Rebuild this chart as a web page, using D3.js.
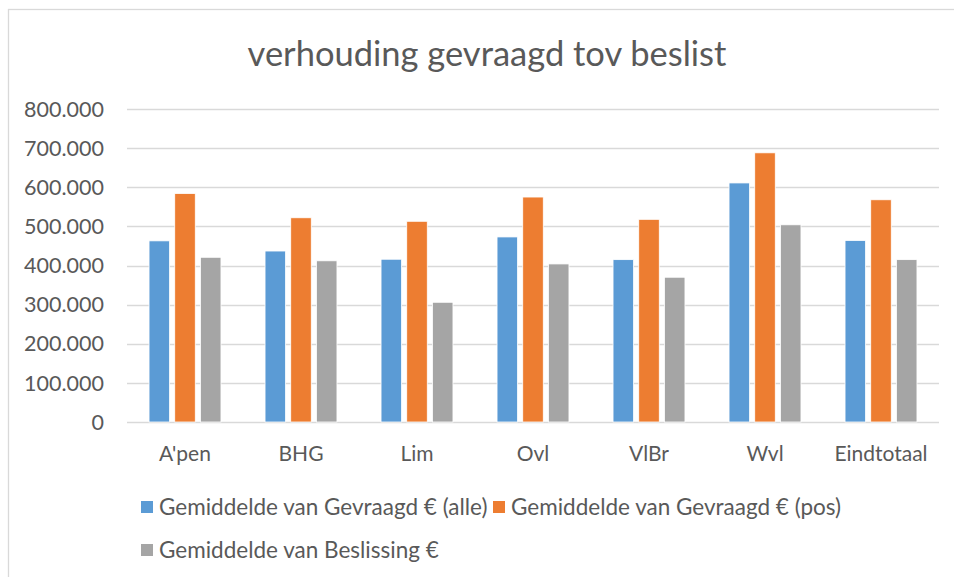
<!DOCTYPE html>
<html>
<head>
<meta charset="utf-8">
<script src="https://cdn.jsdelivr.net/npm/d3@7"></script>
<style>
  body { margin: 0; background: #fff; }
  text { font-family: Lato, "Open Sans", sans-serif; fill: #595959; }
</style>
</head>
<body>
<div id="chart"></div>
<script>
// data
var categories = ["A'pen", "BHG", "Lim", "Ovl", "VlBr", "Wvl", "Eindtotaal"];
var seriesNames = ["Gemiddelde van Gevraagd € (alle)", "Gemiddelde van Gevraagd € (pos)", "Gemiddelde van Beslissing €"];
var alle = [463000, 437000, 416000, 473000, 415000, 611000, 464000];
var pos = [584000, 522000, 513000, 575000, 518000, 688000, 568000];
var beslissing = [421000, 412000, 306000, 404000, 370000, 504000, 415000];
var yTicks = [0, 100000, 200000, 300000, 400000, 500000, 600000, 700000, 800000];
var colors = ["#5b9bd5", "#ed7d31", "#a5a5a5"];

var W = 954, H = 577;
var series = [alle, pos, beslissing];

var nl = d3.formatLocale({decimal: ",", thousands: ".", grouping: [3], currency: ["€", ""]});
var fmt = nl.format(",");

var svg = d3.select("#chart").append("svg")
    .attr("width", W)
    .attr("height", H);

svg.append("rect")
    .attr("x", 8.5).attr("y", 9.5)
    .attr("width", 980).attr("height", 620)
    .attr("fill", "#fff")
    .attr("stroke", "#d9d9d9")
    .attr("stroke-width", 1.3);

var x0 = d3.scaleBand()
    .domain(categories)
    .range([127, 939])
    .paddingInner(0.38)
    .paddingOuter(0.19);

var x1 = d3.scaleBand()
    .domain(d3.range(series.length))
    .range([0, x0.bandwidth()])
    .paddingInner(0.2);

var y = d3.scaleLinear()
    .domain([0, 800000])
    .range([422, 109]);

// gridlines
svg.append("g").selectAll("line")
    .data(yTicks).enter().append("line")
    .attr("x1", 127).attr("x2", 939)
    .attr("y1", function(d){ return Math.round(y(d)) + 0.5; })
    .attr("y2", function(d){ return Math.round(y(d)) + 0.5; })
    .attr("stroke", "#d9d9d9")
    .attr("stroke-width", function(d){ return d === 0 ? 1.6 : 1.3; });

// y labels
svg.append("g").selectAll("text")
    .data(yTicks).enter().append("text")
    .attr("x", 104)
    .attr("y", function(d){ return y(d); })
    .attr("dy", "0.36em")
    .attr("text-anchor", "end")
    .attr("font-size", 21.5)
    .text(function(d){ return fmt(d); });

// bars
var groups = svg.append("g").selectAll("g")
    .data(categories).enter().append("g")
    .attr("transform", function(d){ return "translate(" + x0(d) + ",0)"; });

groups.selectAll("rect")
    .data(function(d, i){ return series.map(function(s, j){ return {k: j, v: s[i]}; }); })
    .enter().append("rect")
    .attr("x", function(d){ return x1(d.k); })
    .attr("y", function(d){ return y(d.v); })
    .attr("width", x1.bandwidth())
    .attr("height", function(d){ return y(0) - y(d.v); })
    .attr("fill", function(d){ return colors[d.k]; })
    .attr("stroke", "#fff")
    .attr("stroke-width", 0.8);

// x labels
svg.append("g").selectAll("text")
    .data(categories).enter().append("text")
    .attr("x", function(d){ return x0(d) + x0.bandwidth() / 2; })
    .attr("y", 453)
    .attr("dy", "0.36em")
    .attr("text-anchor", "middle")
    .attr("font-size", 21)
    .text(function(d){ return d; });

// title
svg.append("text")
    .attr("x", 487)
    .attr("y", 54)
    .attr("dy", "0.36em")
    .attr("text-anchor", "middle")
    .attr("font-size", 34.5)
    .text("verhouding gevraagd tov beslist");

// legend
var legendPos = [[141, 507], [493, 507], [141, 550]];
var legend = svg.append("g").selectAll("g")
    .data(seriesNames).enter().append("g")
    .attr("transform", function(d, i){ return "translate(" + legendPos[i][0] + "," + legendPos[i][1] + ")"; });

legend.append("rect")
    .attr("x", 0).attr("y", -6)
    .attr("width", 12).attr("height", 12)
    .attr("fill", function(d, i){ return colors[i]; });

legend.append("text")
    .attr("x", 18)
    .attr("dy", "0.36em")
    .attr("font-size", 22.5)
    .text(function(d){ return d; });
</script>
</body>
</html>
